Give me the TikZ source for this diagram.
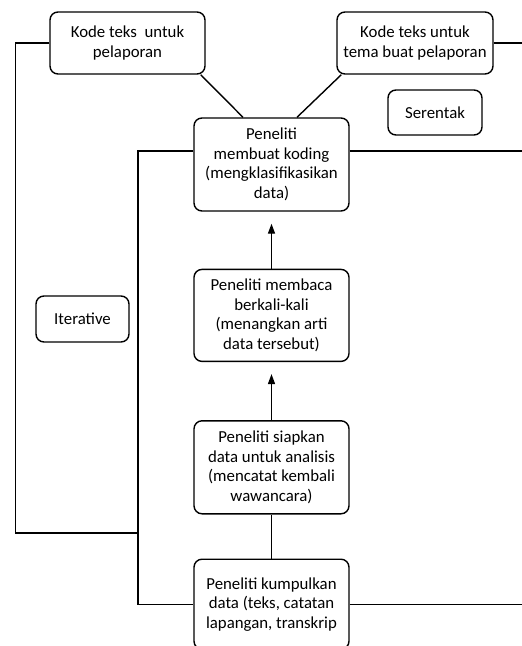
\documentclass[tikz,border=0pt]{standalone}
\usepackage{fontspec}
\setmainfont{Carlito}
\usetikzlibrary{positioning, arrows.meta}
\tikzset{every picture/.style={line width=1.4pt}}
\tikzset{kotak/.style={draw, rounded corners=8pt, align=center, inner sep=2pt, font=\fontsize{16.8}{19.5}\selectfont}}

\begin{document}
\begin{tikzpicture}[x=1pt,y=-1pt]
		\useasboundingbox (0,0) rectangle (522,646);
			\node[kotak, minimum width=155pt, minimum height=62pt] (kodeL) at (127.5,43) {Kode teks\ \ untuk\\pelaporan};
			\node[kotak, minimum width=156pt, minimum height=62pt] (kodeR) at (415,43) {Kode teks untuk\\tema buat pelaporan};
			\node[kotak, minimum width=94pt, minimum height=45pt] (serentak) at (435,112.5) {Serentak};
			\node[kotak, minimum width=155pt, minimum height=93pt] (koding) at (271.5,164.5) {Peneliti\\membuat koding\\(mengklasifikasikan\\data)};
			\node[kotak, minimum width=155pt, minimum height=92pt, below=57pt of koding] (membaca) {Peneliti membaca\\berkali-kali\\(menangkan arti\\data tersebut)};
			\node[kotak, minimum width=155pt, minimum height=93pt, below=58pt of membaca] (siapkan) {Peneliti siapkan\\data untuk analisis\\(mencatat kembali\\wawancara)};
			\node[kotak, minimum width=155pt, minimum height=90pt, below=44pt of siapkan] (kumpul) {Peneliti kumpulkan\\data (teks, catatan\\lapangan, transkrip};
			\node[kotak, minimum width=93pt, minimum height=46pt] (iteratif) at (82.5,319) {Iterative};

			\coordinate (tepi) at (522,0);
			\coordinate (sambung) at (138,533);

			\draw (kodeL.west) --++(-34,0) |- (sambung);
			\draw (kodeR.east) -- (kodeR.east -| tepi);
			\draw ([xshift=-5pt]kodeL.south east) -- ([xshift=-28.5pt]koding.north);
			\draw ([xshift=5pt]kodeR.south west) -- ([xshift=25.5pt]koding.north);
			\draw ([yshift=13.5pt]koding.west) -| (sambung) |- (kumpul.west);
			\draw ([yshift=13.5pt]koding.east) -- ([yshift=13.5pt]koding.east -| tepi);
			\draw (kumpul.east) -- (kumpul.east -| tepi);
			\draw[-{Triangle[length=10pt,width=7pt]}, shorten >=12pt] (membaca) -- (koding);
			\draw[-{Triangle[length=10pt,width=7pt]}, shorten >=12pt] (siapkan) -- (membaca);
			\draw (kumpul) -- (siapkan);

		\end{tikzpicture}
\end{document}
